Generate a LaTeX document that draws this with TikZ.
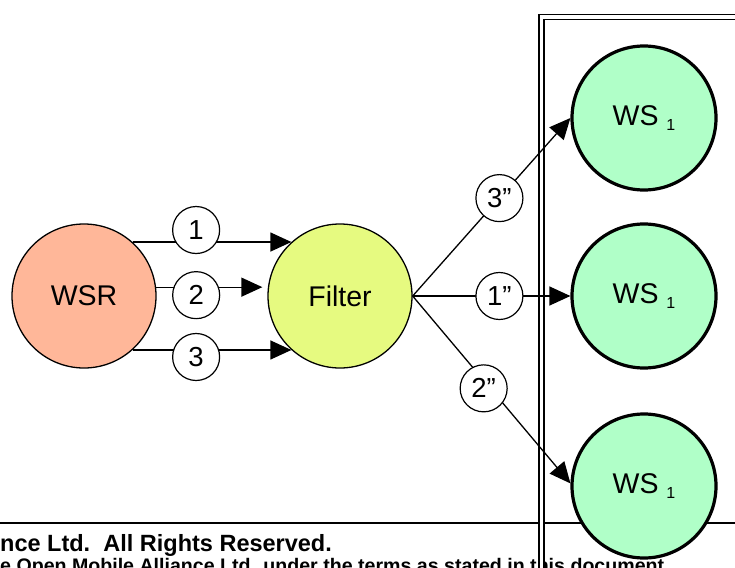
\documentclass[tikz,border=0pt]{standalone}
\usepackage{xcolor}
\usepackage{tikz}
\usetikzlibrary{arrows.meta}
\usepackage{fontspec}
\setmainfont{Liberation Sans}
\definecolor{wsrfill}{RGB}{255,183,153}
\definecolor{filterfill}{RGB}{230,250,128}
\definecolor{wsfill}{RGB}{176,255,200}
\newcommand{\wslabel}{WS \raisebox{-4.5pt}{\fontsize{16}{16}\selectfont 1}}
\tikzset{bigcircle/.style={circle, draw, line width=1.3pt, minimum size=144pt, inner sep=0pt,
                           font=\fontsize{28.5}{30}\selectfont},
         wscircle/.style={bigcircle, line width=3.2pt, fill=wsfill},
         numcircle/.style={circle, draw, fill=white, line width=1.2pt, minimum size=47pt, inner sep=0pt,
                           font=\fontsize{27.5}{29}\selectfont},
         flow/.style={line width=1.3pt, -{Triangle[length=21pt,width=19pt]}}}

\begin{document}
\begin{tikzpicture} [x=1pt, y=-1pt]
\path[use as bounding box, clip] (0,0) rectangle (735,567);
\draw[line width=1.6pt] (0,523)--(735,523);
\node[anchor=base west, inner sep=0pt, font=\bfseries\fontsize{23.5}{25}\selectfont] (rights) at (0,551) {nce Ltd.\ \ All Rights Reserved.};
\node[anchor=base west, inner sep=0pt, font=\bfseries\fontsize{19.6}{21}\selectfont] (terms) at (0,572) {e Open Mobile Alliance Ltd. under the terms as stated in this document.};
\draw[double, double distance=3.6pt, line width=1.5pt] (541.5,600)--(541.5,17)--(760,17);
\node[bigcircle, fill=wsrfill] (wsr) at (84,296) {WSR};
\node[bigcircle, fill=filterfill] (filter) at (340,296) {Filter};
\node[wscircle] (wsa) at (644,118) {\wslabel};
\node[wscircle] (wsb) at (644,296) {\wslabel};
\node[wscircle] (wsc) at (644,486) {\wslabel};
\draw[flow] (wsr.48)--(filter.132) node[numcircle, pos=.4, yshift=12pt] (in1) {1};
\draw[flow] (wsr.7)--([xshift=-5pt]wsr.7 -| filter.west) node[numcircle, pos=.377, yshift=-8pt] (in2) {2};
\draw[flow] (wsr.-48)--(filter.228) node[numcircle, pos=.4, yshift=-7pt] (in3) {3};
\draw[flow] (filter.east)--(wsa.west) node[numcircle, pos=.55] (out3) {3”};
\draw[flow] (filter.east)--(wsb.west) node[numcircle, pos=.55] (out1) {1”};
\draw[flow] (filter.east)--(wsc.178) node[numcircle, pos=.45, yshift=-8pt] (out2) {2”};
\end{tikzpicture}
\end{document}
